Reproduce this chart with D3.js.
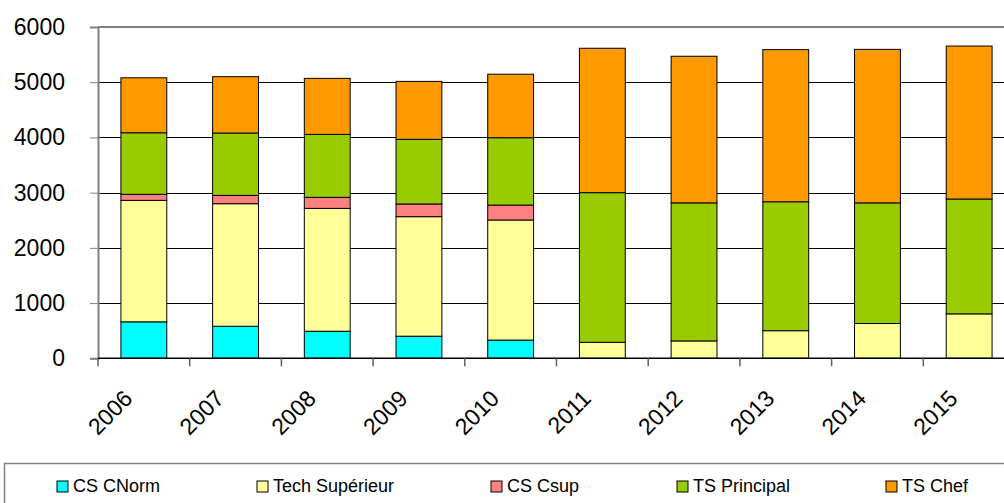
<!DOCTYPE html>
<html>
<head>
<meta charset="utf-8">
<script src="https://cdn.jsdelivr.net/npm/d3@7"></script>
<style>
  html, body { margin: 0; padding: 0; background: #fff; overflow: hidden; }
  svg { display: block; font-family: "Liberation Sans", Arial, sans-serif; }
</style>
</head>
<body>
<svg id="chart" width="1004" height="503"></svg>
<script>
const years = ["2006","2007","2008","2009","2010","2011","2012","2013","2014","2015"];
const seriesNames = ["CS CNorm","Tech Supérieur","CS Csup","TS Principal","TS Chef"];
const csCNorm      = [660, 580, 490, 400, 330, 0, 0, 0, 0, 0];
const techSup      = [2200, 2220, 2225, 2165, 2175, 290, 315, 500, 630, 805];
const csCsup       = [110, 150, 200, 230, 270, 0, 0, 0, 0, 0];
const tsPrincipal  = [1115, 1130, 1140, 1170, 1220, 2710, 2500, 2335, 2185, 2080];
const tsChef       = [995, 1020, 1015, 1050, 1150, 2615, 2655, 2755, 2780, 2770];
const yTicks = [0, 1000, 2000, 3000, 4000, 5000, 6000];
const colors = ["#00FFFF", "#FFFF99", "#FF8080", "#99CC00", "#FF9900"];

const seriesValues = [csCNorm, techSup, csCsup, tsPrincipal, tsChef];
const table = years.map((yr, i) => {
  const row = { year: yr };
  seriesNames.forEach((s, k) => row[s] = seriesValues[k][i]);
  return row;
});

const svg = d3.select("#chart");
const plotLeft = 98, plotTop = 27, plotBottom = 358.3;
const plotWidth = 917;

const x = d3.scaleBand().domain(years).range([plotLeft, plotLeft + plotWidth])
  .paddingInner(0.5).paddingOuter(0.25);
const y = d3.scaleLinear().domain([0, 6000]).range([plotBottom, plotTop]);
const step = x.step();

// gridlines
svg.append("g").selectAll("line").data(yTicks.filter(t => t > 0 && t < 6000)).join("line")
  .attr("x1", plotLeft).attr("x2", plotLeft + plotWidth)
  .attr("y1", d => Math.round(y(d)) + 0.5).attr("y2", d => Math.round(y(d)) + 0.5)
  .attr("stroke", "#000").attr("stroke-width", 1);

// top border of plot area
svg.append("line")
  .attr("x1", plotLeft).attr("x2", plotLeft + plotWidth)
  .attr("y1", y(6000)).attr("y2", y(6000))
  .attr("stroke", "#808080").attr("stroke-width", 2);

// stacked bars
const stack = d3.stack().keys(seriesNames)(table);
svg.append("g").selectAll("g").data(stack).join("g")
  .attr("fill", (d, i) => colors[i])
  .selectAll("rect").data(d => d.filter(p => p[1] - p[0] > 0)).join("rect")
  .attr("x", d => x(d.data.year))
  .attr("width", x.bandwidth())
  .attr("y", d => y(d[1]))
  .attr("height", d => y(d[0]) - y(d[1]))
  .attr("stroke", "#000").attr("stroke-width", 1);

// y axis
const yAxis = svg.append("g").attr("transform", `translate(${plotLeft},0)`)
  .call(d3.axisLeft(y).tickValues(yTicks).tickSize(8).tickPadding(25).tickFormat(d3.format("d")));
yAxis.select(".domain").attr("stroke", "#808080").attr("stroke-width", 2);
yAxis.selectAll(".tick line").attr("stroke", "#808080");
yAxis.selectAll("text").attr("font-size", 23).attr("fill", "#000")
  .attr("font-family", "Liberation Sans, Arial, sans-serif");

// x axis line
svg.append("line")
  .attr("x1", plotLeft).attr("x2", plotLeft + plotWidth)
  .attr("y1", plotBottom).attr("y2", plotBottom)
  .attr("stroke", "#000").attr("stroke-width", 1.5);

// x tick marks at category boundaries
const boundaries = years.map(d => x(d) - (step - x.bandwidth()) / 2).concat([plotLeft + plotWidth]);
svg.append("g").selectAll("line").data(boundaries).join("line")
  .attr("x1", d => d).attr("x2", d => d)
  .attr("y1", plotBottom).attr("y2", plotBottom + 8)
  .attr("stroke", "#606060").attr("stroke-width", 1.5);

// x labels
svg.append("g").selectAll("text").data(years).join("text")
  .attr("transform", d => `translate(${x(d) + x.bandwidth() / 2 - 10},${400}) rotate(-45)`)
  .attr("text-anchor", "end")
  .attr("font-size", 23)
  .attr("fill", "#000")
  .text(d => d);

// legend
svg.append("rect")
  .attr("x", 4.5).attr("y", 463.5).attr("width", 1010).attr("height", 60)
  .attr("fill", "#fff").attr("stroke", "#808080").attr("stroke-width", 1.5);
const legendX = [57, 257, 491, 677, 886];
const lg = svg.append("g").selectAll("g").data(seriesNames).join("g")
  .attr("transform", (d, i) => `translate(${legendX[i]},481)`);
lg.append("rect").attr("width", 11).attr("height", 11)
  .attr("fill", (d, i) => colors[i]).attr("stroke", "#000").attr("stroke-width", 1);
lg.append("text").attr("x", 16).attr("y", 11)
  .attr("font-size", 18).attr("fill", "#000").text(d => d);
</script>
</body>
</html>
